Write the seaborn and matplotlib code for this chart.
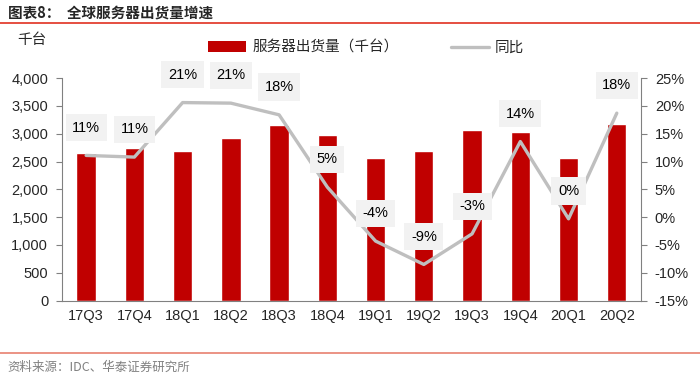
import matplotlib
matplotlib.use('Agg')
import matplotlib.pyplot as plt
import seaborn as sns
import pandas as pd
from matplotlib.ticker import FuncFormatter
from matplotlib.patches import Patch
from matplotlib.lines import Line2D

quarters = ['17Q3', '17Q4', '18Q1', '18Q2', '18Q3', '18Q4',
            '19Q1', '19Q2', '19Q3', '19Q4', '20Q1', '20Q2']
shipments = [2660, 2745, 2685, 2930, 3150, 2985,
             2572, 2685, 3062, 3032, 2565, 3182]
yoy = [11.1, 10.8, 20.6, 20.5, 18.4, 5.4,
       -4.3, -8.5, -3.0, 13.6, -0.3, 18.7]
yoy_labels = ['11%', '11%', '21%', '21%', '18%', '5%',
              '-4%', '-9%', '-3%', '14%', '0%', '18%']

df = pd.DataFrame({'季度': quarters, '出货量': shipments, '同比': yoy})
df['x'] = range(len(df))

sns.set_style('white')
plt.rcParams['font.family'] = ['Liberation Sans', 'Noto Sans CJK SC']
plt.rcParams['axes.unicode_minus'] = False

red = '#C00000'
grey_line = '#BFBFBF'
spine_c = '#808080'

fig = plt.figure(figsize=(7, 3.81), dpi=100)
ax = fig.add_axes([0.0886, 0.211, 0.827, 0.584])

sns.barplot(data=df, x='季度', y='出货量', color=red, width=0.4,
            saturation=1, ax=ax)
ax.set_xlim(-0.5, len(df) - 0.5)
ax.set_ylim(0, 4000)
ax.set_yticks(range(0, 4001, 500))
ax.yaxis.set_major_formatter(FuncFormatter(lambda v, p: f'{int(v):,}'))
ax.set_xlabel('')
ax.set_ylabel('')

ax2 = ax.twinx()
sns.lineplot(data=df, x='x', y='同比', color=grey_line, linewidth=2.4, ax=ax2)
ax2.set_ylim(-15, 25)
ax2.set_yticks(range(-15, 26, 5))
ax2.yaxis.set_major_formatter(FuncFormatter(lambda v, p: f'{int(v)}%'))
ax2.set_xlabel('')
ax2.set_ylabel('')
ax2.set_xlim(-0.5, len(df) - 0.5)

for i, (v, lab) in enumerate(zip(yoy, yoy_labels)):
    ax2.annotate(lab, (i, v), xytext=(0, 20), textcoords='offset points',
                 ha='center', va='center', fontsize=10.5, color='#000000',
                 bbox=dict(boxstyle='square,pad=0.45', fc='#F2F2F2', ec='none'))

for a in (ax, ax2):
    a.spines['top'].set_visible(False)
    for s in ('left', 'right', 'bottom'):
        a.spines[s].set_color(spine_c)
        a.spines[s].set_linewidth(0.8)
ax.spines['right'].set_visible(False)
ax2.spines['left'].set_visible(False)
ax2.spines['bottom'].set_visible(False)

ax.tick_params(axis='y', direction='out', length=4, color=spine_c, labelsize=10.5, pad=6)
ax2.tick_params(axis='y', direction='out', length=4, color=spine_c, labelsize=10.5, pad=6)
ax.set_xticks(range(len(df)))
ax.set_xticklabels(quarters)
ax.set_xticks([i + 0.5 for i in range(-1, len(df))], minor=True)
ax.tick_params(axis='x', which='major', length=0, labelsize=10.5, pad=6)
ax.tick_params(axis='x', which='minor', direction='out', length=4, color=spine_c)
ax2.tick_params(axis='x', which='both', length=0)

handles = [Patch(facecolor=red, edgecolor='none'),
           Line2D([0], [0], color=grey_line, linewidth=2.4)]
fig.legend(handles, ['服务器出货量（千台）', '同比'], loc='center',
           bbox_to_anchor=(0.523, 0.875), ncol=2, frameon=False,
           fontsize=10.5, handlelength=2.6, handleheight=0.7,
           columnspacing=3.6, handletextpad=0.4)

fig.text(0.024, 0.895, '千台', fontsize=10.5, ha='left', va='center',
         family=['Noto Sans CJK SC'])
fig.text(0.011, 0.967, '图表8：  全球服务器出货量增速', fontsize=10.5,
         fontweight='bold', ha='left', va='center', family=['Noto Sans CJK SC'])
fig.add_artist(Line2D([0.0, 1.0], [0.94, 0.94], color='#E03020', linewidth=1.2))
fig.add_artist(Line2D([0.0, 1.0], [0.073, 0.073], color='#E88070', linewidth=1.2))
fig.text(0.011, 0.035, '资料来源：IDC、华泰证券研究所', fontsize=9, color='#808080',
         ha='left', va='center', family=['Noto Sans CJK SC', 'Liberation Sans'])

fig.savefig('out.png', dpi=100)
